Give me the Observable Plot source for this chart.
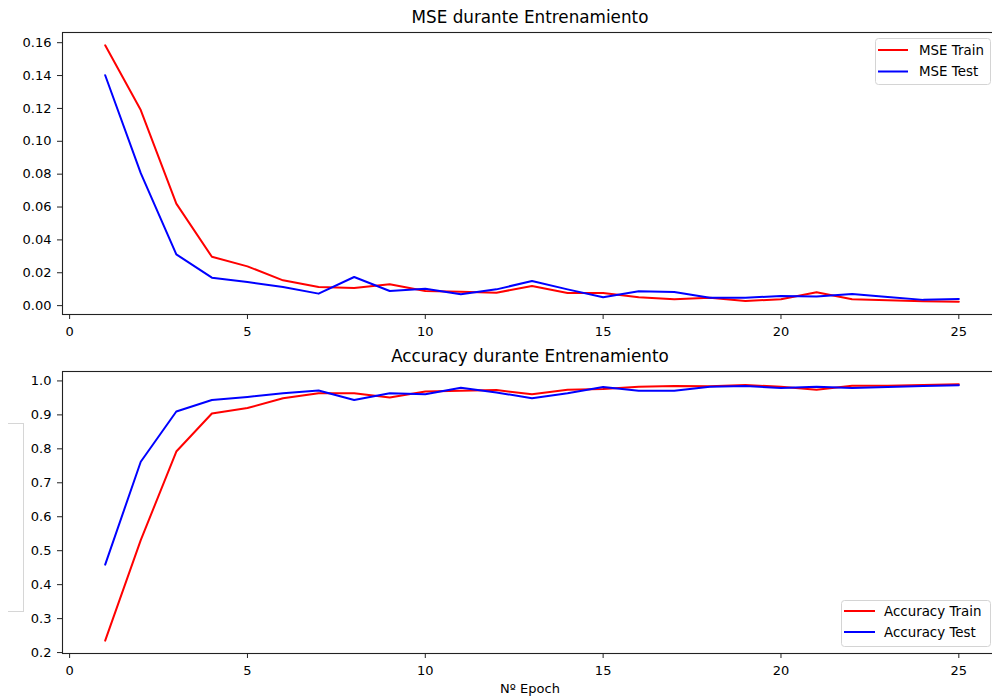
<!DOCTYPE html>
<html>
<head>
<meta charset="utf-8">
<script src="https://cdn.jsdelivr.net/npm/d3@7"></script>
<script src="https://cdn.jsdelivr.net/npm/@observablehq/plot@0.6"></script>
<style>
  html, body { margin: 0; padding: 0; background: white; overflow: hidden; }
  #wrap { position: relative; width: 992px; height: 700px; font-family: "DejaVu Sans", sans-serif; }
  #wrap > svg { position: absolute; left: 0; }
  #bracket { position: absolute; left: 8px; top: 423px; width: 15px; height: 187px;
    border-top: 1px solid #d6d6d6; border-right: 1px solid #d6d6d6; border-bottom: 1px solid #d6d6d6; }
</style>
</head>
<body>
<div id="wrap"></div>
<script>
const epochs = [1,2,3,4,5,6,7,8,9,10,11,12,13,14,15,16,17,18,19,20,21,22,23,24,25];
const mseTrain = [0.1584,0.119,0.0621,0.0297,0.0239,0.0154,0.0113,0.0107,0.013,0.0089,0.0085,0.0079,0.0119,0.0077,0.0077,0.0051,0.0039,0.0048,0.0028,0.0039,0.0081,0.0039,0.0033,0.0027,0.0024];
const mseTest = [0.1402,0.0806,0.0312,0.017,0.0144,0.0113,0.0073,0.0174,0.0089,0.0103,0.0069,0.0099,0.015,0.0099,0.0051,0.0087,0.0083,0.0048,0.0048,0.0059,0.0055,0.0071,0.0053,0.0035,0.0041];
const accTrain = [0.235,0.531,0.792,0.904,0.920,0.949,0.964,0.964,0.951,0.969,0.971,0.973,0.961,0.974,0.976,0.983,0.985,0.984,0.988,0.983,0.974,0.986,0.986,0.988,0.990];
const accTest = [0.459,0.762,0.910,0.944,0.953,0.964,0.972,0.944,0.964,0.961,0.980,0.966,0.949,0.964,0.982,0.971,0.971,0.983,0.985,0.979,0.983,0.979,0.982,0.985,0.987];
const xTicks = [0,5,10,15,20,25];
const mseTicks = [0.00,0.02,0.04,0.06,0.08,0.10,0.12,0.14,0.16];
const accTicks = [0.2,0.3,0.4,0.5,0.6,0.7,0.8,0.9,1.0];
const titles = ["MSE durante Entrenamiento", "Accuracy durante Entrenamiento"];
const mseLabels = ["MSE Train", "MSE Test"];
const accLabels = ["Accuracy Train", "Accuracy Test"];
const xLabel = "Nº Epoch";
const colors = ["#ff0000", "#0000ff"];

function pad(ext) { const m = (ext[1] - ext[0]) * 0.05; return [ext[0] - m, ext[1] + m]; }
const xDomain = pad(d3.extent(epochs));

function table(a, b, names) {
  return epochs.flatMap((e, i) => [
    {epoch: e, value: a[i], series: names[0]},
    {epoch: e, value: b[i], series: names[1]}
  ]);
}

function makePlot(data, names, yTicks, fmt, height, mt, mb) {
  const yDomain = pad(d3.extent(data, d => d.value));
  return Plot.plot({
    width: 992, height, marginLeft: 62, marginRight: -9, marginTop: mt, marginBottom: mb,
    style: {fontFamily: "DejaVu Sans, sans-serif", fontSize: "13px", color: "black", background: "white"},
    x: {domain: xDomain},
    y: {domain: yDomain},
    color: {domain: names, range: colors},
    marks: [
      Plot.line(data, {x: "epoch", y: "value", z: "series", stroke: "series", strokeWidth: 2}),
      Plot.frame({stroke: "#222", strokeWidth: 1.1}),
      Plot.axisX({ticks: xTicks, tickSize: 5, tickPadding: 7, label: null, tickFormat: d3.format("d"), stroke: "#222"}),
      Plot.axisY({ticks: yTicks, tickSize: 5, tickPadding: 6, label: null, tickFormat: d3.format(fmt), stroke: "#222"})
    ]
  });
}

const wrap = document.getElementById("wrap");
const top1 = makePlot(table(mseTrain, mseTest, mseLabels), mseLabels, mseTicks, ".2f", 340, 32, 26);
top1.style.top = "0px";
wrap.appendChild(top1);
const bot = makePlot(table(accTrain, accTest, accLabels), accLabels, accTicks, ".1f", 360, 31, 47);
bot.style.top = "340px";
wrap.appendChild(bot);

const br = document.createElement("div");
br.id = "bracket";
wrap.appendChild(br);

// overlay for titles, legends, x label
const ov = d3.select(wrap).append("svg")
  .attr("width", 992).attr("height", 700)
  .style("top", "0px").style("pointer-events", "none")
  .style("font-family", "DejaVu Sans, sans-serif");

ov.append("text").attr("x", 530).attr("y", 23).attr("text-anchor", "middle")
  .attr("font-size", 16.8).text(titles[0]);
ov.append("text").attr("x", 530).attr("y", 362).attr("text-anchor", "middle")
  .attr("font-size", 16.8).text(titles[1]);
ov.append("text").attr("x", 530).attr("y", 693).attr("text-anchor", "middle")
  .attr("font-size", 13).text(xLabel);

function legend(x, y, w, h, labels, lx0, lx1, tx, ly) {
  ov.append("rect").attr("x", x + 0.5).attr("y", y + 0.5).attr("width", w).attr("height", h)
    .attr("rx", 3).attr("fill", "white").attr("fill-opacity", 0.8).attr("stroke", "#d4d4d4");
  labels.forEach((l, i) => {
    ov.append("line").attr("x1", lx0).attr("x2", lx1).attr("y1", ly[i]).attr("y2", ly[i])
      .attr("stroke", colors[i]).attr("stroke-width", 2);
    ov.append("text").attr("x", tx).attr("y", ly[i] + 4.8).attr("font-size", 13.4).text(l);
  });
}
legend(875, 38, 115, 46, mseLabels, 878, 908, 919, [50, 71.5]);
legend(841, 600, 149, 46, accLabels, 844, 875, 884, [611, 632]);
</script>
</body>
</html>
